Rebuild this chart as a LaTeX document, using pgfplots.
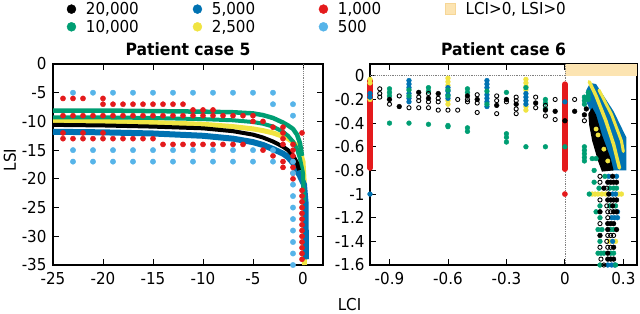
\documentclass[border=0pt]{standalone}
\usepackage{fontspec}
\setmainfont{DejaVu Sans}[FakeStretch=0.92]
\usepackage{pgfplots}
\pgfplotsset{compat=1.18}
\definecolor{cK}{RGB}{0,0,0}
\definecolor{cG}{RGB}{0,158,115}
\definecolor{cB}{RGB}{0,114,178}
\definecolor{cY}{RGB}{240,228,66}
\definecolor{cR}{RGB}{228,26,28}
\definecolor{cL}{RGB}{86,180,233}
\definecolor{cO}{RGB}{252,228,178}
\definecolor{cOd}{RGB}{246,214,150}
\newcommand{\fs}{\fontsize{16.5}{19}\selectfont}
\pgfplotsset{myax/.style={scale only axis, height=201bp, clip=false,
  tick align=inside, major tick length=6bp,
  axis line style={line width=1.1bp},
  every tick/.style={black, line width=0.9bp},
  tick label style={font=\fs},
  xticklabel style={yshift=-3.5bp},
  yticklabel style={xshift=-3bp},
  title style={font=\bfseries\fontsize{17}{19}\selectfont, at={(0.5,1)}, anchor=base, yshift=3bp},
}}
\begin{document}
\begin{tikzpicture}[x=1bp,y=1bp]
\path[use as bounding box] (0,0) rectangle (640,313);
% ---------------- Patient case 5 ----------------
\begin{axis}[myax, at={(53bp,48bp)}, anchor=south west, width=270bp,
  xmin=-25, xmax=2, ymin=-35, ymax=0,
  xtick={-25,-20,-15,-10,-5,0}, xticklabels={-25,-20,-15,-10,-5,0},
  ytick={0,-5,-10,-15,-20,-25,-30,-35}, yticklabels={0,-5,-10,-15,-20,-25,-30,-35},
  title={Patient case 5},
  legend style={at={(axis description cs:0.051,1.318)}, anchor=north west, draw=none, fill=none,
    font=\fs, row sep=0bp, inner sep=0pt,
    /tikz/every odd column/.append style={column sep=8bp}},
  legend columns=4, legend cell align=left]
\addlegendimage{only marks, mark=*, mark size=4.5bp, cK}
\addlegendentry{\makebox[105bp][l]{20,000}}
\addlegendimage{only marks, mark=*, mark size=4.5bp, cB}
\addlegendentry{\makebox[105bp][l]{5,000}}
\addlegendimage{only marks, mark=*, mark size=4.5bp, cR}
\addlegendentry{\makebox[105bp][l]{1,000}}
\addlegendimage{legend image code/.code={\draw[fill=cO, draw=cOd, line width=0.8bp] (-5bp,-5.5bp) rectangle (5bp,5.5bp);}}
\addlegendentry{LCI>0, LSI>0}
\addlegendimage{only marks, mark=*, mark size=4.5bp, cG}
\addlegendentry{\makebox[105bp][l]{10,000}}
\addlegendimage{only marks, mark=*, mark size=4.5bp, cY}
\addlegendentry{\makebox[105bp][l]{2,500}}
\addlegendimage{only marks, mark=*, mark size=4.5bp, cL}
\addlegendentry{\makebox[105bp][l]{500}}
% dotted reference line
\addplot[gray, densely dotted, line width=0.8bp, forget plot] coordinates {(0,0) (0,-35)};
% dense bands
\addplot[cY, line width=5bp, line join=round, forget plot] coordinates {(-25,-10.0) (-20,-10.0) (-15,-10.2) (-10,-10.5) (-7,-10.9) (-5,-11.3) (-4,-11.6) (-3,-12.0) (-2,-12.6) (-1.5,-13.0) (-1,-13.6) (-0.6,-14.3) (-0.3,-15.2) (0,-17) (0.1,-20) (0.15,-35)};
\addplot[cB, line width=6bp, line join=round, forget plot] coordinates {(-25,-11.8) (-20,-11.9) (-15,-12.1) (-10,-12.5) (-7,-13.0) (-5,-13.6) (-4,-14.1) (-3,-14.8) (-2,-15.6) (-1.5,-16.2) (-1,-17.2) (-0.6,-18.5) (-0.3,-19.5) (0.1,-21) (0.25,-24) (0.3,-34)};
\addplot[cG, line width=4.5bp, line join=round, forget plot] coordinates {(-25,-8.1) (-20,-8.1) (-15,-8.2) (-10,-8.3) (-7,-8.4) (-5,-8.6) (-4,-8.9) (-3,-9.4) (-2,-10.2) (-1.5,-10.7) (-1,-11.3) (-0.6,-12.3) (-0.3,-13.8) (-0.1,-16)};
\addplot[cG, line width=4bp, line join=round, forget plot] coordinates {(-25,-9.3) (-20,-9.3) (-15,-9.4) (-10,-9.6) (-7,-9.8) (-5,-10.1) (-4,-10.4) (-3,-10.9) (-2,-11.8) (-1.5,-12.5) (-1,-13.5) (-0.6,-14.8) (-0.3,-16.5) (0,-19) (0.1,-24)};
\addplot[cK, line width=4bp, line join=round, forget plot] coordinates {(-25,-10.6) (-20,-10.7) (-15,-10.9) (-10,-11.2) (-7,-11.7) (-5,-12.3) (-4,-12.8) (-3,-13.5) (-2,-14.4) (-1.5,-15) (-1,-15.9) (-0.6,-17.2) (-0.4,-18.5)};
% 1,000
\addplot[only marks, mark=*, mark size=2.6bp, cR, forget plot] coordinates {
(-24,-6)(-23,-6)(-22,-6)(-20,-6)
(-20,-7)(-19,-7)(-18,-7)(-17,-7)(-16,-7)(-15,-7)(-14,-7)(-13,-7)(-12,-7)
(-11,-8)(-10,-8)(-9,-8)
(-24,-9)(-23,-9)(-22,-9)(-21,-9)(-20,-9)(-19,-9)(-18,-9)(-17,-9)(-16,-9)(-15,-9)(-14,-9)(-13,-9)(-12,-9)(-11,-9)(-10,-9)(-9,-9)(-8,-9)(-7,-9)(-6,-9)(-5,-9)
(-5,-10)(-4,-10)(-3,-11)(-2,-11)(-2,-12)(-2,-13)(-2,-14)
(-24,-12)(-22,-12)(-20,-12)
(-24,-13)(-23,-13)(-22,-13)(-21,-13)(-20,-13)(-19,-13)(-18,-13)(-17,-13)(-16,-13)(-15,-13)
(-14,-14)(-13,-14)(-12,-14)(-11,-14)(-10,-14)(-9,-14)(-8,-14)(-7,-14)(-6,-14)
(-4,-15)(-3,-16)(-2,-17)(-2,-18)
(-1,-14)(-1,-15)(-1,-16)(-1,-17)(-1,-18)(-1,-19)(-1,-20)
(-0.1,-12)(-0.1,-22)(-0.1,-23)(-0.1,-24)(-0.1,-25)(-0.1,-26)(-0.1,-27)(-0.1,-28)(-0.1,-29)(-0.1,-30)(-0.1,-31)(-0.1,-32)(-0.1,-33)(-0.1,-34)};
% 500
\addplot[only marks, mark=*, mark size=2.7bp, cL, forget plot] coordinates {
(-23,-5)(-21,-5)(-19,-5)(-17,-5)(-15,-5)(-13,-5)(-11,-5)(-9,-5)(-7,-5)(-5,-5)(-3,-5)
(-3,-7)(-1,-7)(-1,-9)
(-23,-15)(-21,-15)(-19,-15)(-17,-15)(-15,-15)(-13,-15)(-11,-15)(-9,-15)(-7,-15)(-5,-15)(-3,-15)
(-23,-17)(-21,-17)(-19,-17)(-17,-17)(-15,-17)(-13,-17)(-11,-17)(-9,-17)(-7,-17)(-5,-17)(-3,-17)
(-1,-17)(-1,-19)(-1,-21)(-1,-23)(-1,-25)(-1,-27)(-1,-29)(-1,-31)(-1,-33)(-1,-35)};
\end{axis}
% ---------------- Patient case 6 ----------------
\begin{axis}[myax, at={(370bp,48bp)}, anchor=south west, width=267bp,
  xmin=-1, xmax=0.37, ymin=-1.6, ymax=0.1,
  xtick={-0.9,-0.6,-0.3,0,0.3}, xticklabels={-0.9,-0.6,-0.3,0,0.3},
  ytick={0,-0.2,-0.4,-0.6,-0.8,-1,-1.2,-1.4,-1.6},
  yticklabels={0,-0.2,-0.4,-0.6,-0.8,-1,-1.2,-1.4,-1.6},
  yticklabel style={xshift=1bp},
  title={Patient case 6}]
\addplot[fill=cO, draw=none] coordinates {(0,0) (0.37,0) (0.37,0.1) (0,0.1)};
\addplot[gray, densely dotted, line width=0.8bp] coordinates {(-1,0) (0,0)};
\addplot[gray, densely dotted, line width=0.8bp] coordinates {(0,0.1) (0,-1.6)};
% 1,000 columns
\addplot[cR, line width=5.5bp, line cap=round] coordinates {(-1,-0.04) (-1,-0.78)};
\addplot[cR, line width=5.5bp, line cap=round] coordinates {(0,-0.07) (0,-0.79)};
\addplot[only marks, mark=*, mark size=2.6bp, cR] coordinates {(0,-1)};
% 2,500
\addplot[only marks, mark=*, mark size=2.4bp, cY] coordinates {
(-1,-0.03)(-1,-0.06)(-1,-0.2)(-0.6,-0.02)(-0.6,-0.05)(-0.6,-0.08)(-0.6,-0.21)(-0.6,-0.24)
(-0.2,-0.03)(-0.2,-0.06)(-0.2,-0.09)(-0.2,-0.12)(-0.2,-0.26)(-0.2,-0.29)
(0.14,-1)(0.155,-1)(0.17,-1)(0.19,-1)(0.21,-1)(0.275,-1)(0.29,-1)(0.23,-1.4)(0.26,-1.4)};
% 5,000 dense region and streaks
\addplot[fill=cB, draw=none] coordinates {(0.11,-0.12) (0.13,-0.06) (0.16,-0.07) (0.25,-0.3) (0.315,-0.52) (0.315,-0.8) (0.24,-0.8) (0.19,-0.55) (0.14,-0.33) (0.11,-0.22)};
\addplot[cY, line width=3.5bp, line cap=round] coordinates {(0.125,-0.05) (0.16,-0.17) (0.21,-0.38) (0.25,-0.58) (0.28,-0.78)};
\addplot[cY, line width=3bp, line cap=round] coordinates {(0.175,-0.12) (0.24,-0.33) (0.29,-0.55) (0.3,-0.64)};
\addplot[only marks, mark=*, mark size=2.4bp, cB] coordinates {
(-1,-0.15)(-1,-0.18)(-1,-1)(-0.8,-0.04)(-0.8,-0.07)(-0.8,-0.1)(-0.8,-0.15)(-0.8,-0.19)(-0.8,-0.22)
(-0.6,-0.1)(-0.6,-0.13)(-0.6,-0.16)(-0.6,-0.19)
(-0.4,-0.04)(-0.4,-0.07)(-0.4,-0.1)(-0.4,-0.16)(-0.4,-0.19)(-0.4,-0.22)(-0.4,-0.26)
(-0.2,-0.15)(-0.2,-0.18)(-0.2,-0.21)(-0.2,-0.24)(0,-0.22)
(0.225,-0.85)(0.265,-0.85)(0.245,-1)(0.26,-1)(0.27,-1.15)(0.24,-1.2)(0.255,-1.2)(0.27,-1.2)(0.245,-1.4)(0.22,-1.6)(0.24,-1.6)(0.255,-1.6)};
% 10,000
\addplot[only marks, mark=*, mark size=2.4bp, cG] coordinates {
(-0.9,-0.11)(-0.9,-0.14)(-0.9,-0.17)(-0.9,-0.4)(-0.8,-0.12)(-0.8,-0.17)(-0.8,-0.4)
(-0.7,-0.1)(-0.7,-0.13)(-0.7,-0.41)(-0.6,-0.12)(-0.6,-0.17)(-0.6,-0.42)(-0.6,-0.43)
(-0.5,-0.11)(-0.5,-0.14)(-0.5,-0.44)(-0.5,-0.47)(-0.4,-0.13)(-0.4,-0.24)
(-0.3,-0.14)(-0.3,-0.49)(-0.3,-0.52)(-0.3,-0.56)(-0.2,-0.1)(-0.2,-0.6)
(-0.1,-0.2)(-0.1,-0.23)(-0.1,-0.28)(-0.1,-0.6)(0,-0.6)
(0.1,-0.18)(0.1,-0.21)(0.1,-0.24)(0.1,-0.6)(0.1,-0.63)(0.1,-0.66)(0.1,-0.69)(0.1,-0.72)
(0.12,-0.14)(0.12,-0.17)(0.12,-0.2)(0.14,-0.7)(0.16,-0.7)(0.15,-0.8)
(0.205,-0.85)(0.15,-0.9)(0.175,-0.95)(0.23,-0.95)(0.25,-0.95)(0.265,-0.95)(0.125,-1)
(0.18,-1.1)(0.23,-1.1)(0.26,-1.1)(0.16,-1.15)(0.18,-1.2)(0.17,-1.3)(0.19,-1.3)(0.235,-1.3)(0.25,-1.3)
(0.18,-1.4)(0.17,-1.5)(0.185,-1.5)(0.2,-1.5)(0.235,-1.5)(0.25,-1.5)(0.18,-1.6)(0.26,-1.6)};
% 20,000
\addplot[fill=cK, draw=none] coordinates {(0.12,-0.32) (0.14,-0.27) (0.16,-0.33) (0.19,-0.5) (0.235,-0.7) (0.25,-0.8) (0.19,-0.81) (0.17,-0.72) (0.14,-0.55) (0.125,-0.42)};
\addplot[only marks, mark=*, mark size=2.2bp, cY] coordinates {(0.17,-0.5)(0.2,-0.62)(0.22,-0.72)(0.16,-0.45)};
\addplot[only marks, mark=*, mark size=2.4bp, cK] coordinates {
(-0.9,-0.2)(-0.85,-0.26)(-0.75,-0.14)(-0.7,-0.19)(-0.65,-0.15)(-0.5,-0.17)(-0.45,-0.2)(-0.35,-0.25)
(-0.3,-0.2)(-0.25,-0.24)(-0.15,-0.23)(-0.1,-0.29)(-0.05,-0.3)(0,-0.38)(0.05,-0.3)(0.1,-0.33)(0.11,-0.28)
(0.245,-0.85)(0.22,-0.9)(0.235,-0.9)(0.25,-0.9)(0.265,-0.9)(0.2,-0.95)(0.225,-1)
(0.22,-1.05)(0.235,-1.05)(0.25,-1.05)(0.265,-1.05)(0.245,-1.1)(0.18,-1.15)(0.25,-1.15)(0.265,-1.15)
(0.22,-1.25)(0.235,-1.25)(0.25,-1.25)(0.22,-1.3)(0.265,-1.3)(0.18,-1.35)(0.25,-1.45)(0.22,-1.5)
(0.22,-1.55)(0.235,-1.55)(0.25,-1.55)};
\addplot[only marks, mark=o, mark size=2.1bp, line width=0.9bp, cK] coordinates {
(-0.95,-0.11)(-0.95,-0.15)(-0.95,-0.18)(-0.9,-0.24)(-0.85,-0.17)(-0.8,-0.27)(-0.75,-0.18)(-0.75,-0.21)(-0.75,-0.27)
(-0.7,-0.15)(-0.7,-0.22)(-0.7,-0.27)(-0.65,-0.19)(-0.65,-0.22)(-0.65,-0.29)(-0.6,-0.29)(-0.55,-0.2)(-0.55,-0.29)
(-0.5,-0.2)(-0.5,-0.22)(-0.45,-0.16)(-0.45,-0.23)(-0.45,-0.31)(-0.35,-0.17)(-0.35,-0.21)(-0.35,-0.32)(-0.3,-0.22)
(-0.25,-0.18)(-0.25,-0.21)(-0.25,-0.28)(-0.25,-0.32)(-0.15,-0.18)(-0.15,-0.27)(-0.1,-0.25)(-0.1,-0.34)
(-0.05,-0.2)(-0.05,-0.37)(0.05,-0.2)(0.1,-0.38)
(0.18,-0.85)(0.18,-0.9)(0.215,-0.95)(0.18,-1.05)(0.215,-1.1)(0.22,-1.15)(0.235,-1.15)(0.22,-1.2)(0.18,-1.25)
(0.22,-1.35)(0.235,-1.35)(0.25,-1.35)(0.215,-1.4)(0.18,-1.45)(0.22,-1.45)(0.235,-1.45)(0.185,-1.55)(0.2,-1.6)};
\end{axis}
\node[rotate=90, font=\fs] at (10bp,153bp) {LSI};
\node[anchor=base, font=\fs] at (349.5bp,2.5bp) {LCI};
\end{tikzpicture}
\end{document}
